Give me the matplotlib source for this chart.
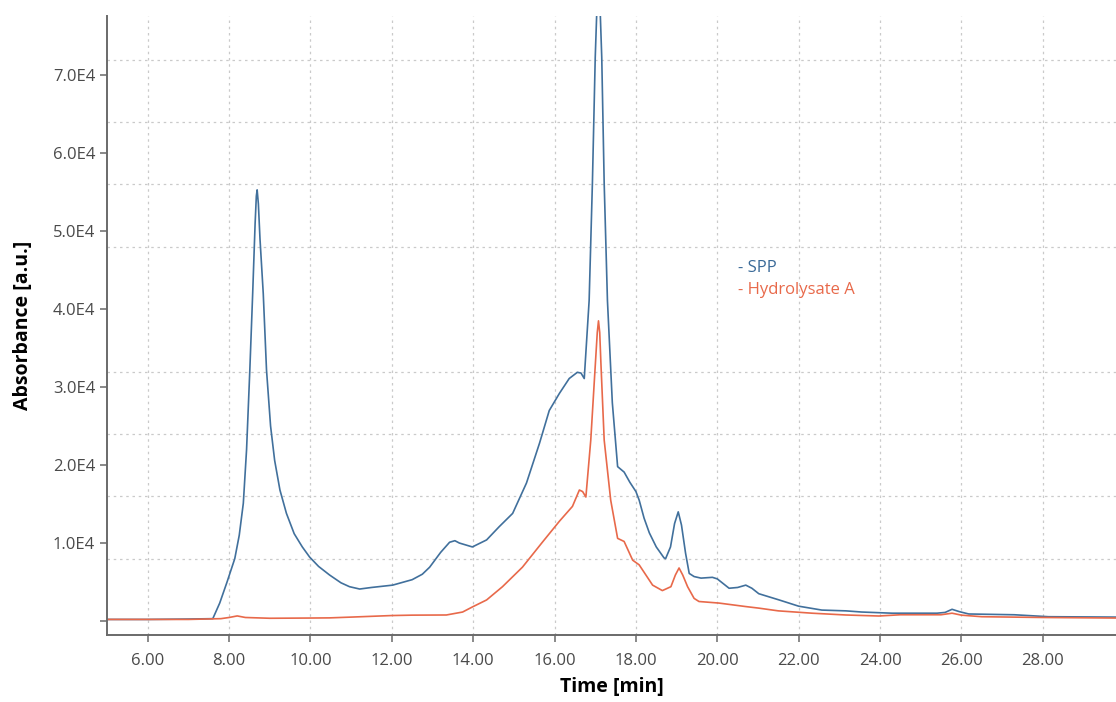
import matplotlib
matplotlib.use("Agg")
import matplotlib.pyplot as plt
from matplotlib.ticker import MultipleLocator, FuncFormatter
import numpy as np

# chromatogram points (time in min, absorbance in a.u.)
spp_t = [5.0, 6.0, 7.0, 7.6, 7.77, 7.95, 8.14, 8.25, 8.35, 8.43, 8.51, 8.58, 8.64, 8.67, 8.69,
         8.72, 8.76, 8.8, 8.84, 8.92, 9.02, 9.12, 9.25, 9.41, 9.6, 9.8, 9.98, 10.2, 10.47, 10.75,
         10.96, 11.21, 11.5, 12.02, 12.5, 12.75, 12.93, 13.2, 13.42, 13.55, 13.66, 13.98, 14.33, 14.64,
         14.97, 15.31, 15.63, 15.87, 16.12, 16.36, 16.56, 16.65, 16.73, 16.85, 16.93, 17.0, 17.05, 17.08,
         17.11, 17.16, 17.22, 17.30, 17.42, 17.55, 17.71, 17.85, 18.0, 18.08, 18.2, 18.33, 18.5,
         18.69, 18.73, 18.85, 18.95, 19.04, 19.12, 19.22, 19.31, 19.43, 19.6, 19.88, 20.0,
         20.29, 20.5, 20.7, 20.85, 21.02, 21.52, 22.0, 22.57, 23.16, 23.55, 24.3, 25.4,
         25.6, 25.77, 25.95, 26.18, 27.3, 28.14, 29.8]
spp_y = [200, 200, 250, 300, 2300, 5000, 8000, 11000, 15100, 22000, 32200, 42000, 51000, 54500, 55300,
         53500, 49000, 45500, 42000, 32200, 25000, 20600, 16800, 13800, 11200, 9500, 8200, 7000, 5900, 4900,
         4400, 4100, 4300, 4600, 5300, 6000, 6900, 8800, 10100, 10300, 10000, 9500, 10400, 12100,
         13800, 17700, 22800, 27000, 29200, 31100, 31900, 31800, 31100, 41100, 56100, 72300, 80000, 82000,
         80000, 72300, 56100, 41100, 28000, 19800, 19100, 17800, 16600, 15500, 13200, 11300, 9500,
         8100, 8000, 9500, 12500, 14000, 12300, 8700, 6100, 5700, 5500, 5600, 5400,
         4200, 4300, 4600, 4200, 3500, 2700, 1900, 1400, 1300, 1150, 1000, 1000,
         1100, 1500, 1200, 900, 800, 550, 500]

hyd_t = [5.0, 6.0, 7.0, 7.8, 8.0, 8.2, 8.4, 9.0, 10.0, 10.47, 11.0, 12.0, 12.5, 13.34, 13.74,
         13.98, 14.33, 14.72, 15.21, 15.7, 16.12, 16.44, 16.61, 16.69, 16.77, 16.89, 16.98,
         17.05, 17.08, 17.11, 17.14, 17.22, 17.38, 17.55, 17.71, 17.92, 18.08, 18.41, 18.65, 18.86, 18.97,
         19.06, 19.15, 19.27, 19.43, 19.55, 20.04, 20.7, 21.02, 21.5, 22.33, 23.16, 23.97,
         24.5, 25.5, 25.77, 26.0, 26.5, 28.0, 29.8]
hyd_y = [200, 200, 200, 300, 450, 650, 450, 350, 380, 400, 500, 700, 750, 770, 1150,
         1800, 2700, 4400, 6900, 10100, 12800, 14700, 16800, 16600, 15900, 23200, 31000,
         37000, 38500, 37000, 33000, 23200, 15500, 10600, 10200, 7800, 7200, 4600, 3900, 4400, 5900,
         6800, 5900, 4400, 2900, 2500, 2300, 1850, 1650, 1300, 1000, 770, 640,
         800, 800, 1000, 750, 550, 450, 380]

x_ticks = [6, 8, 10, 12, 14, 16, 18, 20, 22, 24, 26, 28]

plt.rcParams['font.family'] = ['Open Sans', 'DejaVu Sans']

fig = plt.figure(figsize=(11.16, 7.02), dpi=100)
ax = fig.add_axes([0.0959, 0.0954, 0.9041, 0.8818])

ax.plot(spp_t, spp_y, color='#41709c', lw=1.2)
ax.plot(hyd_t, hyd_y, color='#e8694a', lw=1.2)

ax.set_xlim(5.0, 29.8)
ax.set_ylim(-1800, 77600)

ax.set_xticks(x_ticks)
ax.xaxis.set_major_formatter(FuncFormatter(lambda v, p: '%.2f' % v))
ax.yaxis.set_major_locator(MultipleLocator(10000))
ax.yaxis.set_major_formatter(FuncFormatter(lambda v, p: '' if abs(v) < 1 else '%.1fE4' % (v / 1e4)))
ax.yaxis.set_minor_locator(MultipleLocator(8000))

# grid: vertical lines at the labelled times, horizontal ones on their own 0.8E4 step
ax.grid(which='major', axis='x', color='#cacaca', ls=(0, (2, 3)), lw=0.9)
ax.grid(which='minor', axis='y', color='#cacaca', ls=(0, (2, 3)), lw=0.9)
ax.grid(which='major', axis='y', visible=False)

for s in ['top', 'right']:
    ax.spines[s].set_visible(False)
for s in ['left', 'bottom']:
    ax.spines[s].set_color('#6a6a6a')
    ax.spines[s].set_linewidth(1.4)

ax.tick_params(which='major', direction='out', length=5, width=1.1, color='#6a6a6a',
               labelcolor='#4a4a4a', labelsize=12)
ax.tick_params(which='minor', length=0)
ax.tick_params(axis='x', pad=8)

ax.set_xlabel('Time [min]', fontsize=14, fontweight='bold', color='black', labelpad=6)
ax.set_ylabel('Absorbance [a.u.]', fontsize=14, fontweight='bold', color='black', labelpad=14)

ax.text(0.6615, 0.6125, '- SPP', transform=fig.transFigure, color='#3a6a98', fontsize=12)
ax.text(0.6615, 0.5810, '- Hydrolysate A', transform=fig.transFigure, color='#e8694a', fontsize=12)

fig.savefig('out.png', dpi=100)
